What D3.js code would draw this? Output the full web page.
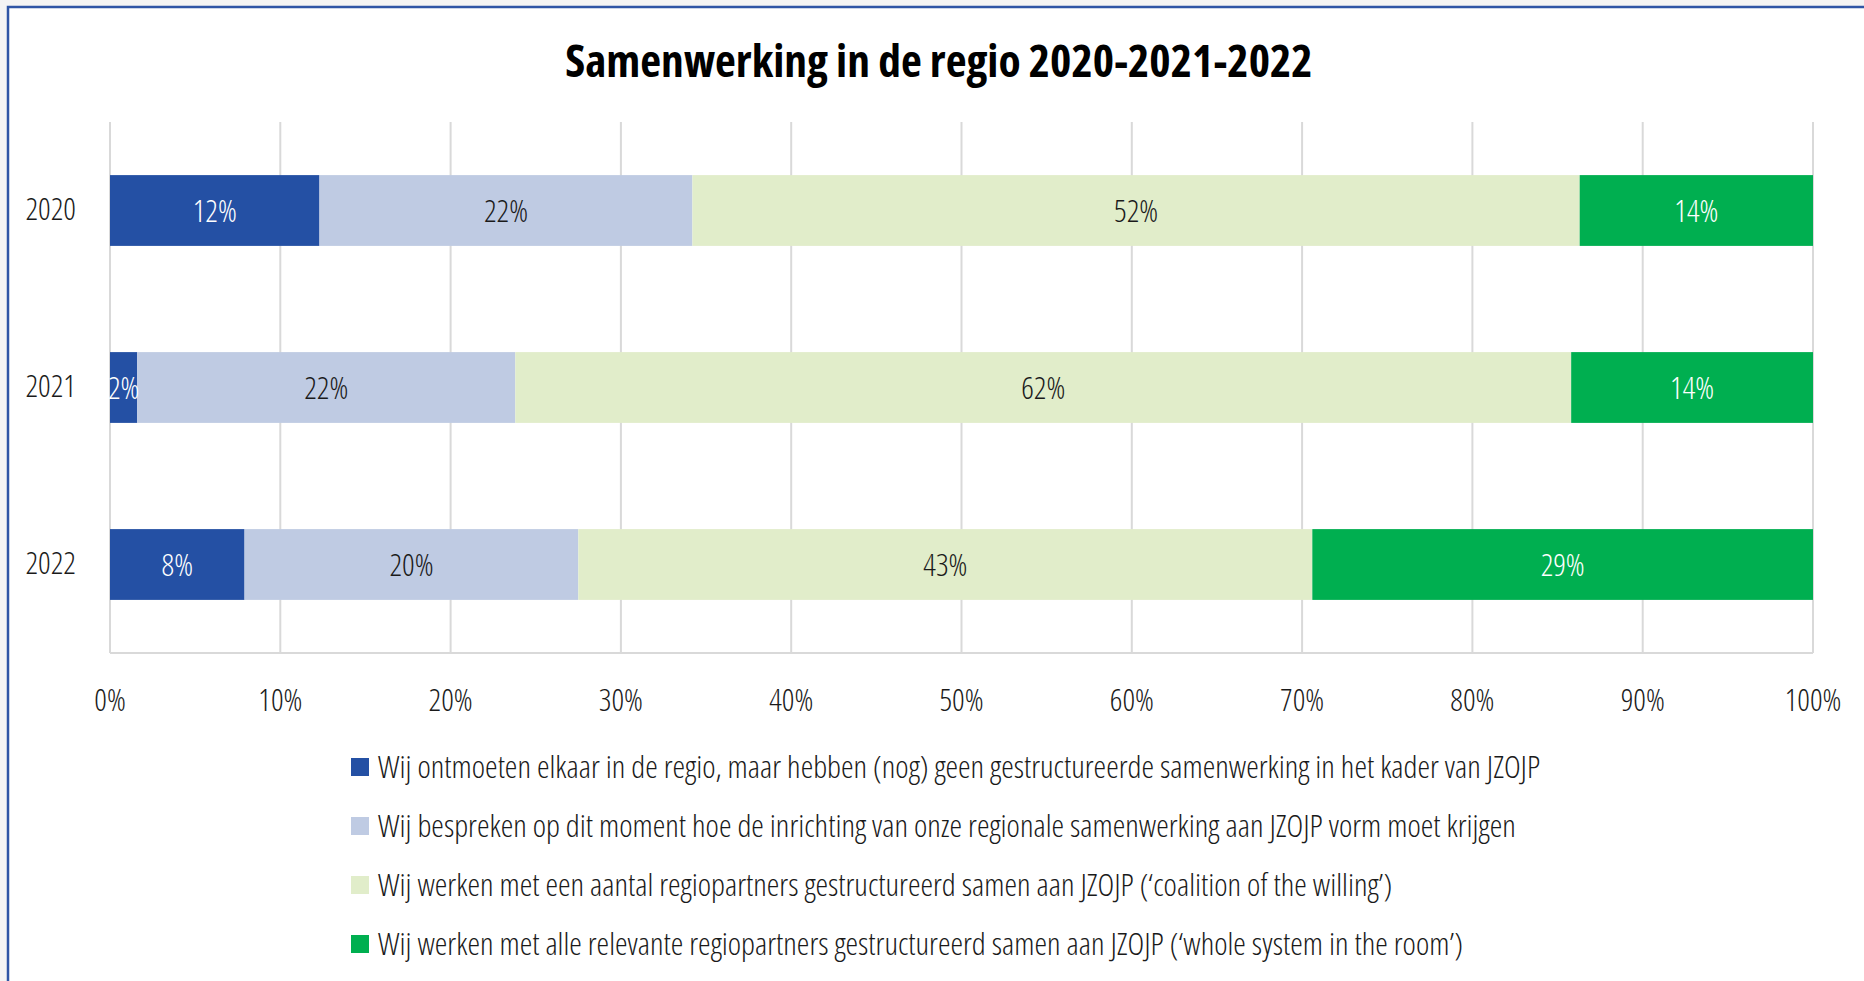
<!DOCTYPE html>
<html>
<head>
<meta charset="utf-8">
<script src="https://cdn.jsdelivr.net/npm/d3@7"></script>
<style>
  html, body { margin: 0; padding: 0; background: #f4f4f4; }
  svg text { font-family: "Open Sans", "Liberation Sans Narrow", sans-serif; font-stretch: 75%; }
</style>
</head>
<body>
<div id="chart"></div>
<script>
var years = ["2020", "2021", "2022"];
var seriesNames = [
    "Wij ontmoeten elkaar in de regio, maar hebben (nog) geen gestructureerde samenwerking in het kader van JZOJP",
    "Wij bespreken op dit moment hoe de inrichting van onze regionale samenwerking aan JZOJP vorm moet krijgen",
    "Wij werken met een aantal regiopartners gestructureerd samen aan JZOJP (\u2018coalition of the willing\u2019)",
    "Wij werken met alle relevante regiopartners gestructureerd samen aan JZOJP (\u2018whole system in the room\u2019)"
];
var ontmoeten = [12.3, 1.6, 7.9];
var bespreken = [21.9, 22.2, 19.6];
var aantal = [52.1, 62.0, 43.1];
var alle = [13.7, 14.2, 29.4];
var xTicks = [0, 10, 20, 30, 40, 50, 60, 70, 80, 90, 100];
var colors = ["#2450a4", "#bfcbe3", "#e1edca", "#00af50"];
var labelColors = ["#ffffff", "#1a1a1a", "#1a1a1a", "#ffffff"];

var W = 1864, H = 981;
var margin = {top: 122, right: 51, bottom: 328, left: 110};
var width = W - margin.left - margin.right,
    height = H - margin.top - margin.bottom;

var svg = d3.select("#chart")
    .append("svg")
    .attr("width", W)
    .attr("height", H);

// chart frame
svg.append("rect")
    .attr("x", 8).attr("y", 7)
    .attr("width", 1900).attr("height", 1000)
    .attr("fill", "#ffffff")
    .attr("stroke", "#2f55a5")
    .attr("stroke-width", 2.5);

svg.append("text")
    .attr("x", 939).attr("y", 77)
    .attr("text-anchor", "middle")
    .style("font-size", "45.5px")
    .style("font-weight", 700)
    .text("Samenwerking in de regio 2020-2021-2022");

var g = svg.append("g")
    .attr("transform", "translate(" + margin.left + "," + margin.top + ")");

var x = d3.scaleLinear().domain([0, 100]).range([0, width]);
var y = d3.scaleBand().domain(years).range([0, height]).paddingInner(0.6).paddingOuter(0.3);

// gridlines
g.selectAll(".grid")
    .data(xTicks)
    .enter()
    .append("line")
    .attr("x1", function(d) { return x(d); })
    .attr("x2", function(d) { return x(d); })
    .attr("y1", 0)
    .attr("y2", height)
    .attr("stroke", "#d9d9d9")
    .attr("stroke-width", 2);

g.append("line")
    .attr("x1", 0).attr("x2", width)
    .attr("y1", height).attr("y2", height)
    .attr("stroke", "#d9d9d9")
    .attr("stroke-width", 2);

// stacked data
var table = years.map(function(yr, i) {
    return {year: yr, s0: ontmoeten[i], s1: bespreken[i], s2: aantal[i], s3: alle[i]};
});
var stack = d3.stack().keys(["s0", "s1", "s2", "s3"]);
var layers = stack(table);

var layer = g.selectAll(".layer")
    .data(layers)
    .enter()
    .append("g")
    .attr("fill", function(d, i) { return colors[i]; });

layer.selectAll("rect")
    .data(function(d) { return d; })
    .enter()
    .append("rect")
    .attr("x", function(d) { return x(d[0]); })
    .attr("y", function(d) { return y(d.data.year); })
    .attr("width", function(d) { return x(d[1]) - x(d[0]); })
    .attr("height", y.bandwidth());

// value labels
layers.forEach(function(l, i) {
    g.selectAll(".lbl" + i)
        .data(l)
        .enter()
        .append("text")
        .attr("x", function(d) { return (x(d[0]) + x(d[1])) / 2; })
        .attr("y", function(d) { return y(d.data.year) + y.bandwidth() / 2; })
        .attr("dy", "0.38em")
        .attr("text-anchor", "middle")
        .attr("fill", labelColors[i])
        .style("font-size", "31px")
        .style("font-weight", 300)
        .text(function(d) { return Math.round(d[1] - d[0]) + "%"; });
});

// Y axis labels
g.selectAll(".ylab")
    .data(years)
    .enter()
    .append("text")
    .attr("x", -34)
    .attr("y", function(d) { return y(d) + y.bandwidth() / 2; })
    .attr("dy", "0.3em")
    .attr("text-anchor", "end")
    .attr("fill", "#1a1a1a")
    .style("font-size", "31px")
    .style("font-weight", 300)
    .text(function(d) { return d; });

// X axis labels
g.selectAll(".xlab")
    .data(xTicks)
    .enter()
    .append("text")
    .attr("x", function(d) { return x(d); })
    .attr("y", height + 58)
    .attr("text-anchor", "middle")
    .attr("fill", "#1a1a1a")
    .style("font-size", "31px")
    .style("font-weight", 300)
    .text(function(d) { return d + "%"; });

// legend
var legend = svg.selectAll(".legend")
    .data(seriesNames)
    .enter()
    .append("g")
    .attr("transform", function(d, i) { return "translate(351," + (767 + i * 59) + ")"; });

legend.append("rect")
    .attr("x", 0).attr("y", -9)
    .attr("width", 18).attr("height", 18)
    .attr("fill", function(d, i) { return colors[i]; });

legend.append("text")
    .attr("x", 27)
    .attr("y", 0)
    .attr("dy", "0.34em")
    .attr("fill", "#1a1a1a")
    .style("font-size", "31.8px")
    .style("font-weight", 300)
    .text(function(d) { return d; });
</script>
</body>
</html>
